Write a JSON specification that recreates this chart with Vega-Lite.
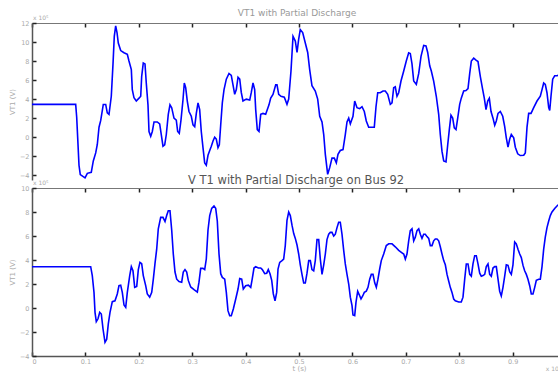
{
"$schema": "https://vega.github.io/schema/vega-lite/v6.json",
"background": "white",
"padding": {"left": 8, "top": 9, "right": 0, "bottom": 0},
"spacing": -6,
"config": {"view": {"stroke": null}, "font": "DejaVu Sans",
  "axis": {"domainColor": "#555", "domainWidth": 1.5, "tickColor": "#222", "tickWidth": 1.5, "tickSize": -4, "labelPadding": 7, "labelColor": "#aaa", "labelFontSize": 6.5, "labelOverlap": false, "titleColor": "#aaa", "titleFontSize": 7, "titleFontWeight": "normal", "grid": false}},
"datasets": {
"top": [
{"t":0,"v":3.45},{"t":0.0818,"v":3.45},{"t":0.0837,"v":2.1},{"t":0.0861,"v":-0.7},{"t":0.088,"v":-2.95},{"t":0.0904,"v":-3.93},{"t":0.0993,"v":-4.28},{"t":0.1036,"v":-3.8},{"t":0.111,"v":-3.7},{"t":0.1148,"v":-2.5},{"t":0.1193,"v":-1.65},{"t":0.1223,"v":-0.77},{"t":0.1255,"v":1.05},{"t":0.1287,"v":1.76},{"t":0.1335,"v":3.44},{"t":0.138,"v":3.44},{"t":0.141,"v":2.56},{"t":0.1442,"v":2.4},{"t":0.1485,"v":4.3},{"t":0.1517,"v":7.7},{"t":0.1541,"v":10.6},{"t":0.1567,"v":11.7},{"t":0.1592,"v":11.0},{"t":0.1616,"v":9.9},{"t":0.1661,"v":9.1},{"t":0.1723,"v":8.87},{"t":0.1785,"v":8.7},{"t":0.1816,"v":8.0},{"t":0.186,"v":7.1},{"t":0.1878,"v":5.0},{"t":0.191,"v":4.14},{"t":0.1953,"v":3.8},{"t":0.2004,"v":4.1},{"t":0.2036,"v":4.3},{"t":0.2054,"v":6.4},{"t":0.2084,"v":7.8},{"t":0.2116,"v":7.7},{"t":0.214,"v":5.7},{"t":0.2172,"v":3.4},{"t":0.2191,"v":0.6},{"t":0.2223,"v":0.1},{"t":0.2253,"v":0.6},{"t":0.2285,"v":1.6},{"t":0.2346,"v":1.6},{"t":0.2391,"v":1.4},{"t":0.2421,"v":0.28},{"t":0.2453,"v":-0.95},{"t":0.2485,"v":-0.8},{"t":0.2515,"v":0.28},{"t":0.2552,"v":2.4},{"t":0.2584,"v":3.4},{"t":0.2616,"v":3.1},{"t":0.2659,"v":2.0},{"t":0.2702,"v":1.8},{"t":0.2728,"v":0.6},{"t":0.2758,"v":0.4},{"t":0.279,"v":1.8},{"t":0.2828,"v":3.96},{"t":0.2852,"v":5.7},{"t":0.2878,"v":5.2},{"t":0.2908,"v":3.8},{"t":0.294,"v":2.7},{"t":0.2983,"v":2.2},{"t":0.3015,"v":1.3},{"t":0.3047,"v":1.1},{"t":0.3077,"v":2.5},{"t":0.3109,"v":3.6},{"t":0.314,"v":2.9},{"t":0.317,"v":0.6},{"t":0.3202,"v":-1.1},{"t":0.3234,"v":-2.7},{"t":0.3264,"v":-2.95},{"t":0.3296,"v":-1.9},{"t":0.3328,"v":-1.4},{"t":0.3358,"v":-0.95},{"t":0.339,"v":-0.4},{"t":0.3421,"v":0.0},{"t":0.3451,"v":-0.2},{"t":0.3483,"v":-1.1},{"t":0.3508,"v":-0.8},{"t":0.3534,"v":1.3},{"t":0.3564,"v":3.6},{"t":0.3596,"v":5.0},{"t":0.3639,"v":6.1},{"t":0.3689,"v":6.7},{"t":0.3732,"v":6.5},{"t":0.3764,"v":5.5},{"t":0.3796,"v":4.5},{"t":0.3826,"v":5.0},{"t":0.3858,"v":6.3},{"t":0.389,"v":6.1},{"t":0.3919,"v":4.7},{"t":0.3951,"v":3.8},{"t":0.4013,"v":4.0},{"t":0.4077,"v":3.9},{"t":0.4107,"v":4.7},{"t":0.4139,"v":5.7},{"t":0.417,"v":5.0},{"t":0.4189,"v":2.9},{"t":0.4219,"v":0.8},{"t":0.4251,"v":0.6},{"t":0.4283,"v":2.4},{"t":0.4326,"v":2.5},{"t":0.4376,"v":2.4},{"t":0.4438,"v":3.4},{"t":0.447,"v":4.1},{"t":0.4513,"v":4.5},{"t":0.4564,"v":5.5},{"t":0.4588,"v":5.5},{"t":0.462,"v":4.5},{"t":0.4663,"v":4.3},{"t":0.4725,"v":4.2},{"t":0.4775,"v":3.45},{"t":0.4807,"v":4.0},{"t":0.485,"v":6.95},{"t":0.4888,"v":10.6},{"t":0.4931,"v":10.1},{"t":0.4963,"v":8.9},{"t":0.4994,"v":10.3},{"t":0.5024,"v":11.3},{"t":0.5069,"v":11.0},{"t":0.5118,"v":9.9},{"t":0.5163,"v":8.9},{"t":0.52,"v":7.1},{"t":0.5243,"v":5.4},{"t":0.5305,"v":4.85},{"t":0.535,"v":4.0},{"t":0.5388,"v":2.2},{"t":0.5431,"v":1.6},{"t":0.5463,"v":0.28},{"t":0.5493,"v":-1.8},{"t":0.5537,"v":-3.9},{"t":0.5575,"v":-3.2},{"t":0.5618,"v":-2.2},{"t":0.5661,"v":-2.2},{"t":0.5699,"v":-2.7},{"t":0.573,"v":-1.8},{"t":0.5773,"v":-1.4},{"t":0.5824,"v":-1.3},{"t":0.5867,"v":0.28},{"t":0.5899,"v":1.6},{"t":0.5931,"v":2.0},{"t":0.5961,"v":1.4},{"t":0.6011,"v":2.2},{"t":0.6043,"v":3.8},{"t":0.6086,"v":3.1},{"t":0.6137,"v":3.0},{"t":0.618,"v":3.2},{"t":0.6223,"v":2.7},{"t":0.626,"v":1.7},{"t":0.6305,"v":1.05},{"t":0.641,"v":1.05},{"t":0.6442,"v":3.2},{"t":0.6474,"v":4.67},{"t":0.6522,"v":4.67},{"t":0.6573,"v":4.85},{"t":0.6616,"v":4.85},{"t":0.6661,"v":4.5},{"t":0.671,"v":3.45},{"t":0.6742,"v":3.6},{"t":0.6773,"v":5.2},{"t":0.6803,"v":5.3},{"t":0.6835,"v":4.3},{"t":0.6867,"v":4.67},{"t":0.691,"v":5.9},{"t":0.6961,"v":6.95},{"t":0.7009,"v":8.0},{"t":0.7054,"v":8.87},{"t":0.7084,"v":8.8},{"t":0.7116,"v":7.7},{"t":0.7148,"v":5.9},{"t":0.7197,"v":5.55},{"t":0.7242,"v":6.7},{"t":0.7285,"v":8.5},{"t":0.7335,"v":9.65},{"t":0.7378,"v":9.6},{"t":0.741,"v":8.9},{"t":0.7448,"v":7.5},{"t":0.7478,"v":6.95},{"t":0.7522,"v":5.9},{"t":0.7571,"v":4.3},{"t":0.7616,"v":2.4},{"t":0.7646,"v":0.28},{"t":0.7678,"v":-1.5},{"t":0.771,"v":-2.5},{"t":0.7753,"v":-2.6},{"t":0.7785,"v":-0.8},{"t":0.7815,"v":0.8},{"t":0.7846,"v":2.3},{"t":0.7878,"v":2.0},{"t":0.7908,"v":0.98},{"t":0.794,"v":0.8},{"t":0.7972,"v":2.0},{"t":0.8009,"v":3.45},{"t":0.8039,"v":4.1},{"t":0.8084,"v":4.85},{"t":0.8127,"v":4.9},{"t":0.8165,"v":5.1},{"t":0.8197,"v":6.7},{"t":0.8227,"v":8.0},{"t":0.8272,"v":8.3},{"t":0.8315,"v":8.1},{"t":0.8352,"v":7.95},{"t":0.8395,"v":6.4},{"t":0.844,"v":5.0},{"t":0.847,"v":4.1},{"t":0.8502,"v":2.9},{"t":0.8534,"v":3.8},{"t":0.8564,"v":4.1},{"t":0.8596,"v":2.7},{"t":0.8633,"v":2.0},{"t":0.8665,"v":1.25},{"t":0.8695,"v":1.7},{"t":0.8727,"v":2.5},{"t":0.877,"v":2.7},{"t":0.8815,"v":2.2},{"t":0.8852,"v":1.1},{"t":0.8882,"v":-0.07},{"t":0.8914,"v":-1.05},{"t":0.8946,"v":-0.2},{"t":0.8976,"v":0.28},{"t":0.9021,"v":-0.07},{"t":0.9051,"v":-1.05},{"t":0.9096,"v":-1.75},{"t":0.9144,"v":-1.93},{"t":0.9208,"v":-1.9},{"t":0.9238,"v":-1.65},{"t":0.927,"v":1.05},{"t":0.9301,"v":2.5},{"t":0.9345,"v":2.5},{"t":0.9395,"v":3.1},{"t":0.9457,"v":3.8},{"t":0.9519,"v":4.3},{"t":0.9551,"v":5.0},{"t":0.9582,"v":5.7},{"t":0.9612,"v":5.55},{"t":0.9644,"v":4.67},{"t":0.9676,"v":3.1},{"t":0.9695,"v":2.8},{"t":0.9719,"v":4.3},{"t":0.9751,"v":6.1},{"t":0.9788,"v":6.45},{"t":0.9831,"v":6.45},{"t":0.99,"v":6.6}
],
"bot": [
{"t":0,"v":3.44},{"t":0.1099,"v":3.44},{"t":0.1129,"v":2.7},{"t":0.1161,"v":1.3},{"t":0.118,"v":-0.36},{"t":0.1204,"v":-1.14},{"t":0.1236,"v":-0.9},{"t":0.1268,"v":-0.36},{"t":0.1298,"v":-0.5},{"t":0.133,"v":-1.75},{"t":0.1367,"v":-2.86},{"t":0.1399,"v":-2.6},{"t":0.1429,"v":-1.33},{"t":0.1461,"v":-0.36},{"t":0.1504,"v":0.53},{"t":0.1554,"v":0.6},{"t":0.1597,"v":1.17},{"t":0.1629,"v":1.86},{"t":0.1661,"v":1.9},{"t":0.1691,"v":1.3},{"t":0.1723,"v":0.25},{"t":0.1755,"v":0.05},{"t":0.1785,"v":1.3},{"t":0.183,"v":2.7},{"t":0.186,"v":3.45},{"t":0.1891,"v":3.1},{"t":0.1923,"v":1.72},{"t":0.1961,"v":1.8},{"t":0.1991,"v":3.2},{"t":0.2022,"v":3.8},{"t":0.2054,"v":3.7},{"t":0.2084,"v":2.7},{"t":0.2129,"v":1.86},{"t":0.2159,"v":1.17},{"t":0.2204,"v":0.9},{"t":0.2242,"v":1.3},{"t":0.2272,"v":2.4},{"t":0.2303,"v":3.7},{"t":0.2335,"v":4.9},{"t":0.2365,"v":6.6},{"t":0.241,"v":7.55},{"t":0.2453,"v":7.55},{"t":0.2491,"v":7.2},{"t":0.2522,"v":7.7},{"t":0.2552,"v":8.1},{"t":0.2584,"v":8.1},{"t":0.2616,"v":6.5},{"t":0.2646,"v":4.5},{"t":0.2678,"v":3.0},{"t":0.271,"v":2.4},{"t":0.2753,"v":2.2},{"t":0.2803,"v":2.15},{"t":0.2833,"v":3.0},{"t":0.2865,"v":3.2},{"t":0.2897,"v":3.0},{"t":0.2927,"v":2.3},{"t":0.2972,"v":1.75},{"t":0.3034,"v":1.53},{"t":0.3096,"v":1.33},{"t":0.3127,"v":2.15},{"t":0.3159,"v":3.3},{"t":0.3202,"v":3.3},{"t":0.3234,"v":3.2},{"t":0.3264,"v":4.08},{"t":0.3296,"v":6.5},{"t":0.3328,"v":7.7},{"t":0.3365,"v":8.3},{"t":0.3408,"v":8.5},{"t":0.344,"v":8.3},{"t":0.347,"v":7.25},{"t":0.3502,"v":4.5},{"t":0.3534,"v":2.86},{"t":0.3564,"v":2.55},{"t":0.3609,"v":2.4},{"t":0.3639,"v":1.3},{"t":0.367,"v":-0.22},{"t":0.3702,"v":-0.64},{"t":0.3732,"v":-0.64},{"t":0.377,"v":-0.08},{"t":0.3815,"v":0.75},{"t":0.3858,"v":1.58},{"t":0.389,"v":2.45},{"t":0.3927,"v":2.4},{"t":0.3957,"v":1.58},{"t":0.4002,"v":1.86},{"t":0.4051,"v":1.9},{"t":0.4096,"v":1.72},{"t":0.4125,"v":2.45},{"t":0.4157,"v":3.33},{"t":0.4189,"v":3.45},{"t":0.4238,"v":3.33},{"t":0.4283,"v":3.33},{"t":0.4313,"v":3.2},{"t":0.4358,"v":2.86},{"t":0.4395,"v":2.9},{"t":0.4425,"v":3.2},{"t":0.4457,"v":2.86},{"t":0.4489,"v":2.3},{"t":0.4519,"v":1.17},{"t":0.4551,"v":0.6},{"t":0.4582,"v":1.3},{"t":0.4607,"v":3.25},{"t":0.4639,"v":3.8},{"t":0.4682,"v":3.95},{"t":0.4713,"v":4.08},{"t":0.4743,"v":5.2},{"t":0.4775,"v":7.3},{"t":0.4807,"v":8.0},{"t":0.4837,"v":7.7},{"t":0.4869,"v":6.9},{"t":0.4901,"v":6.2},{"t":0.4931,"v":5.8},{"t":0.4963,"v":5.25},{"t":0.4994,"v":4.5},{"t":0.5024,"v":3.6},{"t":0.5056,"v":2.8},{"t":0.5088,"v":2.08},{"t":0.5118,"v":2.08},{"t":0.515,"v":2.9},{"t":0.5182,"v":3.95},{"t":0.5212,"v":3.95},{"t":0.5243,"v":3.2},{"t":0.5275,"v":3.1},{"t":0.5305,"v":3.95},{"t":0.5337,"v":5.7},{"t":0.5369,"v":5.7},{"t":0.5399,"v":4.08},{"t":0.5431,"v":2.8},{"t":0.5463,"v":3.6},{"t":0.5493,"v":4.5},{"t":0.5524,"v":5.7},{"t":0.5556,"v":6.15},{"t":0.5586,"v":6.3},{"t":0.5618,"v":6.3},{"t":0.565,"v":6.0},{"t":0.568,"v":6.15},{"t":0.5712,"v":6.7},{"t":0.5743,"v":7.15},{"t":0.5773,"v":7.15},{"t":0.5805,"v":6.15},{"t":0.5837,"v":4.8},{"t":0.5867,"v":3.67},{"t":0.5899,"v":2.8},{"t":0.5931,"v":2.0},{"t":0.5961,"v":0.9},{"t":0.5993,"v":0.2},{"t":0.6011,"v":-0.58},{"t":0.6043,"v":-0.64},{"t":0.6067,"v":0.47},{"t":0.6099,"v":1.4},{"t":0.6129,"v":1.1},{"t":0.6161,"v":0.75},{"t":0.6193,"v":1.0},{"t":0.6223,"v":1.3},{"t":0.626,"v":1.4},{"t":0.6292,"v":1.72},{"t":0.6324,"v":2.4},{"t":0.6354,"v":2.8},{"t":0.6386,"v":2.8},{"t":0.6418,"v":2.1},{"t":0.6448,"v":1.72},{"t":0.6479,"v":2.4},{"t":0.6511,"v":3.25},{"t":0.6541,"v":3.95},{"t":0.6586,"v":4.5},{"t":0.6635,"v":5.2},{"t":0.668,"v":5.35},{"t":0.6742,"v":5.35},{"t":0.6803,"v":5.1},{"t":0.6867,"v":4.8},{"t":0.6929,"v":4.6},{"t":0.6961,"v":4.5},{"t":0.6991,"v":4.08},{"t":0.7022,"v":4.5},{"t":0.7054,"v":5.6},{"t":0.7084,"v":6.45},{"t":0.7116,"v":6.6},{"t":0.7148,"v":5.6},{"t":0.7178,"v":5.9},{"t":0.721,"v":6.45},{"t":0.7242,"v":6.6},{"t":0.7272,"v":6.15},{"t":0.7303,"v":5.8},{"t":0.7335,"v":6.15},{"t":0.7365,"v":6.15},{"t":0.7397,"v":5.95},{"t":0.7429,"v":5.8},{"t":0.7459,"v":5.2},{"t":0.7491,"v":5.2},{"t":0.7522,"v":5.6},{"t":0.7552,"v":5.75},{"t":0.7584,"v":5.75},{"t":0.7616,"v":5.6},{"t":0.7646,"v":5.1},{"t":0.7678,"v":4.5},{"t":0.771,"v":3.95},{"t":0.774,"v":3.6},{"t":0.7772,"v":2.8},{"t":0.7803,"v":2.25},{"t":0.7833,"v":1.72},{"t":0.7865,"v":1.3},{"t":0.7897,"v":0.75},{"t":0.7927,"v":0.6},{"t":0.7991,"v":0.5},{"t":0.8039,"v":0.5},{"t":0.8071,"v":0.9},{"t":0.8103,"v":2.4},{"t":0.8133,"v":3.67},{"t":0.8165,"v":3.67},{"t":0.8197,"v":2.8},{"t":0.8227,"v":2.65},{"t":0.8258,"v":3.67},{"t":0.829,"v":4.36},{"t":0.832,"v":4.36},{"t":0.8352,"v":3.67},{"t":0.8384,"v":2.9},{"t":0.8414,"v":2.65},{"t":0.8446,"v":2.7},{"t":0.8478,"v":2.8},{"t":0.8507,"v":3.45},{"t":0.8539,"v":3.67},{"t":0.8571,"v":2.8},{"t":0.8601,"v":2.65},{"t":0.8633,"v":3.33},{"t":0.8665,"v":3.45},{"t":0.8695,"v":3.45},{"t":0.8727,"v":2.4},{"t":0.8758,"v":1.4},{"t":0.8788,"v":1.0},{"t":0.882,"v":1.72},{"t":0.8852,"v":2.65},{"t":0.8882,"v":3.6},{"t":0.8914,"v":3.55},{"t":0.8946,"v":3.0},{"t":0.8976,"v":2.8},{"t":0.9007,"v":3.6},{"t":0.9039,"v":5.5},{"t":0.9069,"v":5.35},{"t":0.9101,"v":4.9},{"t":0.9133,"v":4.5},{"t":0.9163,"v":4.2},{"t":0.9195,"v":3.55},{"t":0.9226,"v":3.1},{"t":0.9257,"v":2.8},{"t":0.9288,"v":2.4},{"t":0.932,"v":1.86},{"t":0.935,"v":1.17},{"t":0.9382,"v":1.17},{"t":0.9414,"v":1.72},{"t":0.9444,"v":2.3},{"t":0.9489,"v":2.4},{"t":0.9519,"v":2.4},{"t":0.9551,"v":3.45},{"t":0.9582,"v":4.9},{"t":0.9612,"v":5.9},{"t":0.9644,"v":6.7},{"t":0.9676,"v":7.25},{"t":0.9706,"v":7.7},{"t":0.9738,"v":8.0},{"t":0.9788,"v":8.3},{"t":0.9831,"v":8.5},{"t":0.99,"v":8.8}
]},
"vconcat": [
{
 "width": 534, "height": 157,
 "title": {"text": "VT1 with Partial Discharge", "fontSize": 9, "fontWeight": "normal", "color": "#999", "anchor": "middle", "offset": -3, "dx": -2},
 "layer": [
  {"data": {"name": "top"},
   "mark": {"type": "line", "clip": true, "color": "#0000ff", "strokeWidth": 1.6},
   "encoding": {
    "x": {"field": "t", "type": "quantitative", "scale": {"domain": [0, 1]}, "axis": {"orient": "top", "values": [0,0.1,0.2,0.3,0.4,0.5,0.6,0.7,0.8,0.9,1], "tickCount": 30, "labels": false, "title": null, "domainColor": "#777", "domainWidth": 1.2}},
    "y": {"field": "v", "type": "quantitative", "scale": {"domain": [-4.5, 12], "nice": false, "zero": false}, "axis": {"values": [-4,-2,0,2,4,6,8,10,12], "tickCount": 30, "format": "d", "labelOverlap": false, "title": "VT1 (V)", "titlePadding": 4}}
   }},
  {"data": {"values": [{"lbl": "x 10⁵"}]},
   "mark": {"type": "text", "align": "left", "baseline": "bottom", "dx": 1, "dy": -2, "fontSize": 6, "color": "#aaa"},
   "encoding": {"x": {"datum": 0, "type": "quantitative"}, "y": {"datum": 12, "type": "quantitative"}, "text": {"field": "lbl"}}}
 ]
},
{
 "width": 534, "height": 168,
 "title": {"text": "V T1 with Partial Discharge on Bus 92", "fontSize": 11.5, "fontWeight": "normal", "color": "#555", "anchor": "middle", "offset": -6, "dx": -3},
 "resolve": {"axis": {"x": "independent"}},
 "layer": [
  {"data": {"name": "bot"},
   "mark": {"type": "line", "clip": true, "color": "#0000ff", "strokeWidth": 1.6},
   "encoding": {
    "x": {"field": "t", "type": "quantitative", "scale": {"domain": [0, 1]}, "axis": {"orient": "bottom", "values": [0,0.1,0.2,0.3,0.4,0.5,0.6,0.7,0.8,0.9], "tickCount": 30, "labelOverlap": false, "labelPadding": 6, "labelExpr": "datum.value == 0 ? '0' : format(datum.value, '.1f')", "title": "t (s)", "titlePadding": 0}},
    "y": {"field": "v", "type": "quantitative", "scale": {"domain": [-4, 10], "nice": false, "zero": false}, "axis": {"values": [-4,-2,0,2,4,6,8,10], "tickCount": 30, "format": "d", "labelOverlap": false, "title": "VT1 (V)", "titlePadding": 4}}
   }},
  {"data": {"values": [{"lbl": "x 10⁵"}]},
   "mark": {"type": "text", "align": "left", "baseline": "bottom", "dx": 1, "dy": -2, "fontSize": 6, "color": "#aaa"},
   "encoding": {"x": {"datum": 0, "type": "quantitative", "axis": {"orient": "top", "values": [0,0.1,0.2,0.3,0.4,0.5,0.6,0.7,0.8,0.9,1], "tickCount": 30, "labels": false, "title": null, "domainColor": "#777", "domainWidth": 1.2}}, "y": {"datum": 10, "type": "quantitative"}, "text": {"field": "lbl"}}},
  {"data": {"values": [{"lbl": "x 10"}]},
   "mark": {"type": "text", "align": "left", "baseline": "bottom", "dy": 16, "fontSize": 6, "color": "#aaa"},
   "encoding": {"x": {"datum": 0.962, "type": "quantitative", "axis": null}, "y": {"datum": -4, "type": "quantitative"}, "text": {"field": "lbl"}}}
 ]
}
]
}
